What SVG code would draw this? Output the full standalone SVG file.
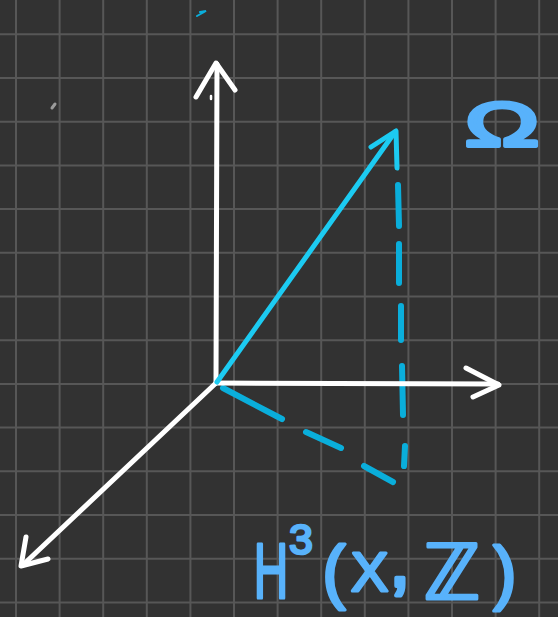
<svg xmlns="http://www.w3.org/2000/svg" width="558" height="617" viewBox="0 0 558 617">
<style>
.grid{stroke:#575757;stroke-width:2;fill:none}
.white{stroke:#ffffff;stroke-width:5;fill:none;stroke-linecap:round;stroke-linejoin:round}
.vec{stroke:#1ccbf2;stroke-width:5;fill:none;stroke-linecap:round;stroke-linejoin:round}
.dash{stroke:#0aaedb;stroke-width:6;fill:none;stroke-linecap:round}
.lbl{fill:#58b2fb;stroke:#58b2fb;stroke-linejoin:round;stroke-linecap:round;font-family:"Liberation Sans","DejaVu Sans",sans-serif;text-anchor:middle}
.lbl.st{text-anchor:start}
</style>
<rect width="558" height="617" fill="#323232"/>
<g id="grid" class="grid">
<path d="M16,0V617M59.6,0V617M103.2,0V617M146.8,0V617M190.4,0V617M234,0V617M277.6,0V617M321.2,0V617M364.8,0V617M408.4,0V617M452,0V617M495.6,0V617M539.2,0V617"/>
<path d="M0,34.3H558M0,78H558M0,121.7H558M0,165.4H558M0,209.1H558M0,252.8H558M0,296.5H558M0,340.2H558M0,383.9H558M0,427.6H558M0,471.3H558M0,515H558M0,558.7H558M0,602.4H558"/>
</g>
<g id="marks">
<path d="M52,108L55,104" stroke="#9a9a9a" stroke-width="3" stroke-linecap="round"/>
<path d="M211,96L211,99" stroke="#ffffff" stroke-width="2.5" stroke-linecap="round"/>
<path d="M200,12L206,11L197,16" stroke="#0aaedb" stroke-width="2" fill="none" stroke-linecap="round"/>
</g>
<g id="dashed-projection">
<path class="dash" d="M223,388L282,419M306,432L341,448M364,466L393,482"/>
<path class="dash" d="M398,185L399,226M399,244L399,283M401,306L401,340M402,366L403,415M405,446L404,466"/>
</g>
<g id="axis-z">
<path class="white" d="M216,383L217,64"/>
<path class="white" d="M196,97L216,63L235,90"/>
</g>
<g id="axis-x">
<path class="white" d="M216,383L498,384"/>
<path class="white" d="M466,368L499,385L473,397"/>
</g>
<g id="axis-y">
<path class="white" d="M216,383L25,563"/>
<path class="white" d="M26,537L21,566L48,559"/>
</g>
<g id="vector-omega">
<path class="vec" d="M217,382L395,132"/>
<path class="vec" d="M371,147L396,131L397,168"/>
</g>
<g id="label-omega">
<text class="lbl" transform="translate(502,146) scale(1.6,1)" font-size="62" stroke-width="4">Ω</text>
</g>
<g id="label-h3">
<text class="lbl" transform="translate(271,598) scale(0.62,1)" font-size="77" stroke-width="3">H</text>
<text class="lbl" x="301" y="554" font-size="43" stroke-width="2.5">3</text>
<text class="lbl" x="334" y="595" font-size="70" stroke-width="3">(</text>
<text class="lbl st" x="351" y="591" font-size="56" stroke-width="3">X<tspan dx="1" dy="-5" font-size="76" stroke-width="4">,</tspan></text>
<text class="lbl" x="452" y="599" font-size="76" stroke-width="3">ℤ</text>
<text class="lbl" x="505" y="596" font-size="70" stroke-width="3">)</text>
</g>
</svg>
